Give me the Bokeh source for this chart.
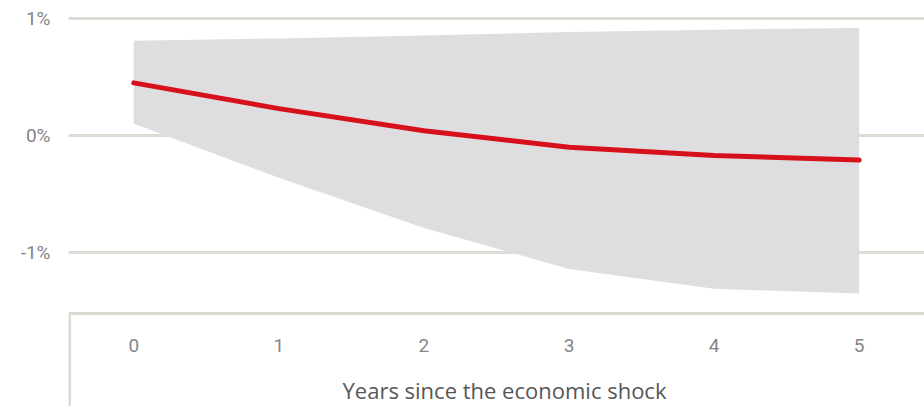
from bokeh.plotting import figure
from bokeh.models import LinearAxis, FixedTicker, ColumnDataSource
from bokeh.embed import file_html
from bokeh.resources import INLINE

# Estimated response (percent) by years since the shock, with its uncertainty band
years = [0, 1, 2, 3, 4, 5]
estimate = [0.45, 0.23, 0.04, -0.10, -0.17, -0.21]
band_upper = [0.81, 0.83, 0.855, 0.885, 0.905, 0.92]
band_lower = [0.10, -0.36, -0.79, -1.14, -1.31, -1.35]

y_ticks = [-1, 0, 1]
y_tick_labels = {-1: "-1%", 0: "0%", 1: "1%"}
x_ticks = [0, 1, 2, 3, 4, 5]
x_title = "Years since the economic shock"

GRID = "#dedbd4"
BOX = "#dcd9d2"
BAND = "#dcdcde"
RED = "#d7111b"
TICK_TEXT = "#858585"

src = ColumnDataSource(dict(x=years, y=estimate, lo=band_lower, hi=band_upper))

X0, X1 = -0.45, 5.45
BOX_TOP = -1.521

p = figure(
    width=924, height=406,
    x_range=(X0, X1), y_range=(-2.316, 1.154),
    output_backend="svg", toolbar_location=None,
    x_axis_location=None, y_axis_location=None,
    min_border_left=68, min_border_right=0, min_border_top=0, min_border_bottom=0,
)
p.outline_line_color = None
p.background_fill_color = "white"

# y axis: percent labels only, gridlines drawn across the plot
yaxis = LinearAxis(ticker=FixedTicker(ticks=y_ticks))
yaxis.major_label_overrides = y_tick_labels
yaxis.axis_line_color = None
yaxis.major_tick_line_color = None
yaxis.minor_tick_line_color = None
yaxis.major_label_standoff = 12
yaxis.major_label_text_font = "Roboto"
yaxis.major_label_text_font_size = "19px"
yaxis.major_label_text_color = TICK_TEXT
p.add_layout(yaxis, "left")

p.ygrid.ticker = FixedTicker(ticks=y_ticks)
p.ygrid.grid_line_color = GRID
p.ygrid.grid_line_width = 3
p.xgrid.grid_line_color = None

# top edge of the box beneath the plot
box_top = LinearAxis(ticker=FixedTicker(ticks=[]), fixed_location=BOX_TOP)
box_top.axis_line_color = BOX
box_top.axis_line_width = 3
box_top.major_tick_line_color = None
box_top.minor_tick_line_color = None
box_top.major_label_text_font_size = "0px"
p.add_layout(box_top, "below")

# left edge of the box
box_side = LinearAxis(ticker=FixedTicker(ticks=[]), fixed_location=-0.441, bounds=(-2.4, BOX_TOP))
box_side.axis_line_color = BOX
box_side.axis_line_width = 3
box_side.major_tick_line_color = None
box_side.minor_tick_line_color = None
box_side.major_label_text_font_size = "0px"
p.add_layout(box_side, "left")

# x tick labels and title inside the box
xaxis = LinearAxis(ticker=FixedTicker(ticks=x_ticks), fixed_location=BOX_TOP, bounds=(-0.34, X1))
xaxis.axis_line_color = None
xaxis.major_tick_line_color = None
xaxis.minor_tick_line_color = None
xaxis.major_label_standoff = 20
xaxis.major_label_text_font = "Roboto"
xaxis.major_label_text_font_size = "19px"
xaxis.major_label_text_color = TICK_TEXT
xaxis.axis_label = x_title
xaxis.axis_label_standoff = 19
xaxis.axis_label_text_font = "Open Sans"
xaxis.axis_label_text_font_style = "normal"
xaxis.axis_label_text_font_size = "22px"
xaxis.axis_label_text_color = "#575757"
p.add_layout(xaxis, "below")

p.varea(x="x", y1="lo", y2="hi", source=src, fill_color=BAND, fill_alpha=0.95)
p.line(x="x", y="y", source=src, line_color=RED, line_width=5, line_cap="round", line_join="round")

open("out.html", "w").write(file_html(p, INLINE))
